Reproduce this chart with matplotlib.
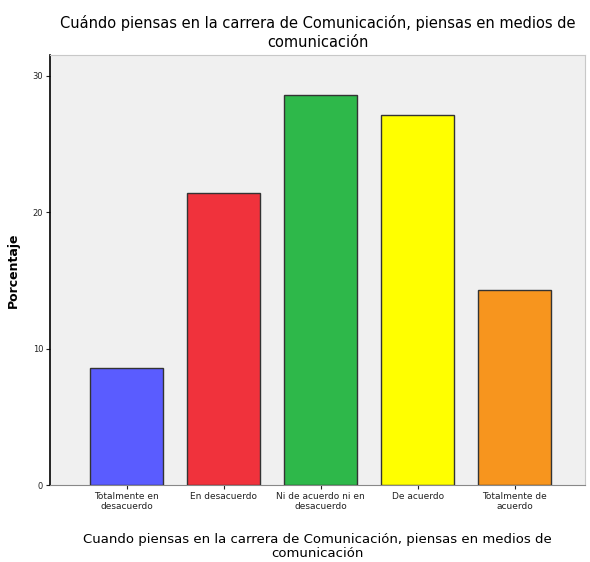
import matplotlib
matplotlib.use("Agg")
import matplotlib.pyplot as plt

categories = ["Totalmente en\ndesacuerdo", "En desacuerdo", "Ni de acuerdo ni en\ndesacuerdo",
              "De acuerdo", "Totalmente de\nacuerdo"]
values = [8.6, 21.4, 28.6, 27.1, 14.3]
colors = ["#5a5cff", "#f0323c", "#2eb84a", "#ffff00", "#f7951e"]
yticks = [0, 10, 20, 30]
title = "Cuándo piensas en la carrera de Comunicación, piensas en medios de\ncomunicación"
xlabel = "Cuando piensas en la carrera de Comunicación, piensas en medios de\ncomunicación"
ylabel = "Porcentaje"

fig = plt.figure(figsize=(5.9, 5.62), dpi=100)
ax = fig.add_axes([0.085, 0.137, 0.907, 0.765])
ax.set_facecolor("#f0f0f0")
x = list(range(len(categories)))
ax.bar(x, values, width=0.75, color=colors, edgecolor="#333333", linewidth=1.0, zorder=3)
ax.set_xlim(-0.79, 4.73)
ax.set_ylim(0, 31.5)
ax.set_yticks(yticks)
ax.set_yticklabels([str(t) for t in yticks], fontsize=6)
ax.set_xticks(x)
ax.set_xticklabels(categories, fontsize=6.5, linespacing=1.1)
ax.tick_params(axis="both", length=3, width=0.8, colors="#222222", pad=2)
for s in ["top", "right"]:
    ax.spines[s].set_color("#c8c8c8")
ax.spines["left"].set_color("black")
ax.spines["left"].set_linewidth(1.2)
ax.spines["bottom"].set_color("#888888")
ax.set_title(title, fontsize=10.5, pad=6, linespacing=1.35)
ax.set_xlabel(xlabel, fontsize=9.5, labelpad=16, linespacing=1.15)
ax.set_ylabel(ylabel, fontsize=9, fontweight="bold", labelpad=9)
fig.savefig("out.png", dpi=100)
